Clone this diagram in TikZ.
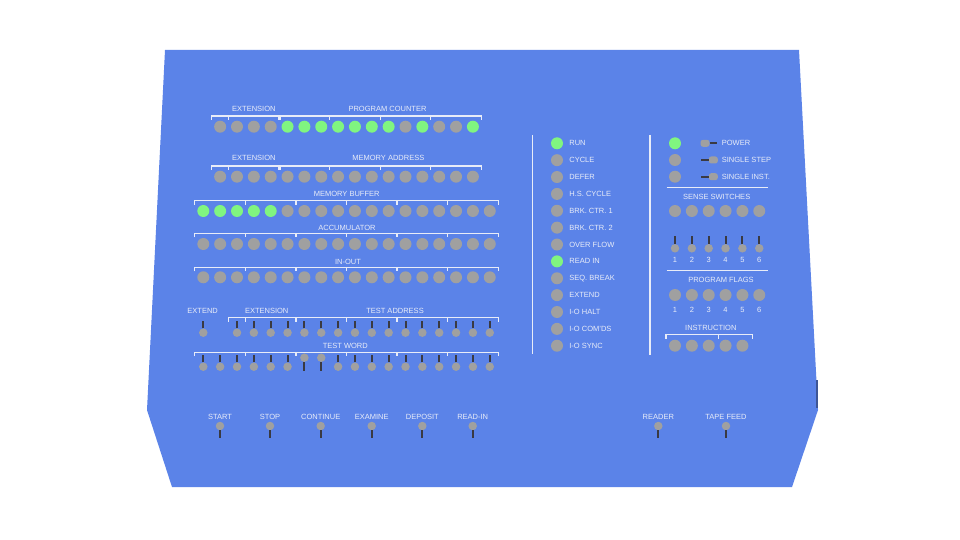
\documentclass[tikz,border=0pt]{standalone}
\usepackage{fontspec}
\setmainfont{Liberation Sans}
\usetikzlibrary{positioning}

\definecolor{panelblue}{RGB}{91,131,232}
\definecolor{paneledge}{RGB}{62,86,150}
\definecolor{lampoff}{RGB}{160,160,160}
\definecolor{lampon}{RGB}{128,245,128}
\definecolor{leverdark}{RGB}{58,58,66}
\definecolor{inkwhite}{RGB}{232,236,248}

\tikzset{
  lamp/.style={circle, fill=lampoff, minimum size=12pt, inner sep=0pt},
  bit0/.style={},
  bit1/.style={fill=lampon},
  knob/.style={circle, fill=lampoff, minimum size=8.5pt, inner sep=0pt},
  hknob/.style={rectangle, rounded corners=2.5pt, fill=lampoff, minimum width=9pt, minimum height=7pt, inner sep=0pt},
  lever/.style={draw=leverdark, line width=2pt},
  caption/.style={text=inkwhite, font=\fontsize{7.5}{9}\selectfont, inner sep=0pt},
  rule/.style={draw=inkwhite, line width=1.2pt},
}

% column of the 18 bit grid
\newcommand{\colx}[1]{203.3+16.85*(#1)}
% register bracket: y, from column, to column, dividers
\newcommand{\regbracket}[4]{%
  \draw[rule] ({\colx{#2}},#1+4) -- ({\colx{#2}},#1) -- ({\colx{#3}},#1) -- ({\colx{#3}},#1+4);
  \foreach \d in {#4} {\draw[rule] ({\colx{\d}},#1) -- ({\colx{\d}},#1+4);}%
}

\begin{document}
\begin{tikzpicture}[x=1pt, y=-1pt]
  \useasboundingbox (0,0) rectangle (960,540);
  \fill[white] (0,0) rectangle (960,540);

  % Panel body
  \fill[panelblue] (165,50) -- (799,50) -- (818,410) -- (792,487) -- (172,487) -- (147,410) -- cycle;
  \fill[paneledge] (816,380) rectangle (818,408);

  % Program counter
  \node[caption] (pcext) at ({\colx{3}},109) {EXTENSION};
  \node[caption] (pclbl) at (387.5,109) {PROGRAM COUNTER};
  \regbracket{116}{0.5}{4.45}{1.5}
  \regbracket{116}{4.55}{16.5}{7.5,10.5,13.5}
  \foreach \b [count=\i from 0] in {0,0,0,0,1,1,1,1,1,1,1,0,1,0,0,1}
    \node[lamp, bit\b] (pc\i) at ({\colx{\i+1}},126.7) {};

  % Memory address
  \node[caption] (maext) at ({\colx{3}},158.3) {EXTENSION};
  \node[caption] (malbl) at (388.3,158.3) {MEMORY ADDRESS};
  \regbracket{166}{0.5}{4.45}{1.5}
  \regbracket{166}{4.55}{16.5}{7.5,10.5,13.5}
  \foreach \i in {0,...,15}
    \node[lamp] (ma\i) at ({\colx{\i+1}},176.7) {};

  % Memory buffer
  \node[caption] (mblbl) at (346.7,194) {MEMORY BUFFER};
  \regbracket{200.7}{-0.5}{17.5}{2.5,5.5,8.5,11.5,14.5}
  \foreach \b [count=\i from 0] in {1,1,1,1,1,0,0,0,0,0,0,0,0,0,0,0,0,0}
    \node[lamp, bit\b] (mb\i) at ({\colx{\i}},211) {};

  % Accumulator
  \node[caption] (aclbl) at (347,227.7) {ACCUMULATOR};
  \regbracket{233.3}{-0.5}{17.5}{2.5,5.5,8.5,11.5,14.5}
  \foreach \i in {0,...,17}
    \node[lamp] (ac\i) at ({\colx{\i}},244) {};

  % In-out
  \node[caption] (iolbl) at (348,261.7) {IN-OUT};
  \regbracket{267.3}{-0.5}{17.5}{2.5,5.5,8.5,11.5,14.5}
  \foreach \i in {0,...,17}
    \node[lamp] (io\i) at ({\colx{\i}},277.3) {};

  % Extend and test address switches
  \node[caption] (extlbl) at (202.7,311) {EXTEND};
  \node[caption] (talext) at (266.7,311) {EXTENSION};
  \node[caption] (talbl) at (395,311) {TEST ADDRESS};
  \regbracket{317.7}{1.5}{5.45}{2.5}
  \regbracket{317.7}{5.55}{17.5}{8.5,11.5,14.5}
  \node[knob] (extsw) at ({\colx{0}},332.7) {};
  \draw[lever] (extsw.north) -- ++(0,-7.5);
  \foreach \i in {2,...,17} {
    \node[knob] (ta\i) at ({\colx{\i}},332.7) {};
    \draw[lever] (ta\i.north) -- ++(0,-7.5);
  }

  % Test word switches
  \node[caption] (twlbl) at (345.3,346) {TEST WORD};
  \regbracket{352.3}{-0.5}{17.5}{2.5,5.5,8.5,11.5,14.5}
  \foreach \i in {0,...,5,8,9,...,17} {
    \node[knob] (tw\i) at ({\colx{\i}},366.7) {};
    \draw[lever] (tw\i.north) -- ++(0,-7.5);
  }
  \foreach \i in {6,7} {
    \node[knob] (tw\i) at ({\colx{\i}},357.7) {};
    \draw[lever] (tw\i.south) -- ++(0,8.8);
  }

  % Status lamps
  \draw[rule, line width=1.5pt] (532.3,135) -- (532.3,354.3);
  \foreach \t/\b [count=\i from 0] in {RUN/1, CYCLE/0, DEFER/0, H.S. CYCLE/0, BRK. CTR. 1/0,
      BRK. CTR. 2/0, OVER FLOW/0, READ IN/1, SEQ. BREAK/0, EXTEND/0, I-O HALT/0, I-O COM'DS/0, I-O SYNC/0} {
    \node[lamp, bit\b] (st\i) at (557,{143.3+16.87*\i}) {};
    \node[caption, right=6pt of st\i] (stl\i) {\t};
  }

  % Power and single step
  \draw[rule, line width=1.5pt] (650,135) -- (650,355);
  \foreach \b [count=\i from 0] in {1,0,0}
    \node[lamp, bit\b] (pw\i) at (675,{143.3+16.7*\i}) {};
  \node[hknob] (tgpower) at (705,143.3) {};
  \draw[lever] (tgpower.east) -- ++(7,0);
  \node[hknob] (tgstep) at (713.3,160) {};
  \draw[lever] (tgstep.west) -- ++(-8,0);
  \node[hknob] (tginst) at (713.3,176.7) {};
  \draw[lever] (tginst.west) -- ++(-8,0);
  \node[caption, anchor=west] (tgpowerl) at (721.7,143.3) {POWER};
  \node[caption, anchor=west] (tgstepl) at (721.7,160) {SINGLE STEP};
  \node[caption, anchor=west] (tginstl) at (721.7,176.7) {SINGLE INST.};

  % Sense switches
  \draw[rule] (666.7,187.7) -- (767.7,187.7);
  \node[caption] (sslbl) at (716.7,196.7) {SENSE SWITCHES};
  \foreach \i in {0,...,5} {
    \pgfmathtruncatemacro\n{\i+1}
    \node[lamp] (ss\i) at ({675+16.85*\i},211) {};
    \node[knob] (ssw\i) at ({675+16.85*\i},248.3) {};
    \draw[lever] (ssw\i.north) -- ++(0,-8);
    \node[caption] (ssn\i) at ({675+16.85*\i},260) {\n};
  }

  % Program flags
  \draw[rule] (666.7,270.7) -- (767.7,270.7);
  \node[caption] (pflbl) at (721,280) {PROGRAM FLAGS};
  \foreach \i in {0,...,5} {
    \pgfmathtruncatemacro\n{\i+1}
    \node[lamp] (pf\i) at ({675+16.85*\i},295) {};
    \node[caption] (pfn\i) at ({675+16.85*\i},310) {\n};
  }

  % Instruction
  \node[caption] (inlbl) at (710.8,327.7) {INSTRUCTION};
  \draw[rule] (666,338.5) -- (666,334.3) -- (752.3,334.3) -- (752.3,338.5);
  \draw[rule] (718.3,334.3) -- (718.3,338.5);
  \foreach \i in {0,...,4}
    \node[lamp] (in\i) at ({675+16.85*\i},345.7) {};

  % Operating switches
  \foreach \t/\x [count=\i] in {START/220, STOP/270, CONTINUE/320.7, EXAMINE/371.7, DEPOSIT/422.3,
      READ-IN/472.7, READER/658.3, TAPE FEED/726} {
    \node[knob] (op\i) at (\x,426) {};
    \draw[lever] (op\i.south) -- ++(0,8);
    \node[caption, above=1.8pt of op\i] (opl\i) {\t};
  }
\end{tikzpicture}
\end{document}
